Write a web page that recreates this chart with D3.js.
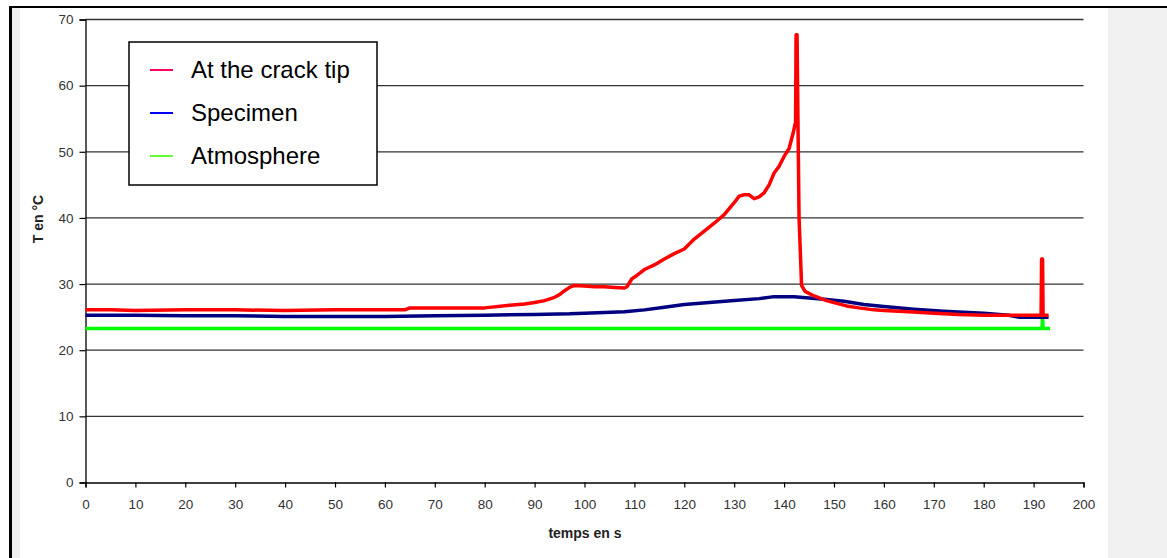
<!DOCTYPE html>
<html><head><meta charset="utf-8">
<script src="https://cdn.jsdelivr.net/npm/d3@7"></script>
<style>html,body{margin:0;padding:0;background:#fff;}svg{display:block;}</style>
</head><body>
<script>
const xTicks = [0,10,20,30,40,50,60,70,80,90,100,110,120,130,140,150,160,170,180,190,200];
const yTicks = [0,10,20,30,40,50,60,70];
const seriesNames = ["At the crack tip","Specimen","Atmosphere"];

const crackT = [0,5,10,20,30,40,50,60,64,65,70,75,80,85,88,90,92,94,95,96,97,98,100,102,104,106,108,108.5,109.5,110.5,112,114,116,118,120,122,124,126,128,130,131,132,133,134,135,136,137,138,139,140,141,141.8,142.3,142.4,142.6,142.7,143.0,143.5,144.2,146,148.5,150,152.5,155,158,160,165,170,175,180,185,190,191.5,191.6,191.8,191.9,193];
const crackV = [26.1,26.1,26.0,26.1,26.1,26.0,26.1,26.1,26.1,26.4,26.4,26.4,26.4,26.8,27.0,27.2,27.5,28.0,28.4,29.0,29.5,29.8,29.7,29.6,29.6,29.5,29.4,29.6,30.8,31.3,32.2,32.9,33.8,34.6,35.3,36.8,38.0,39.2,40.5,42.3,43.3,43.5,43.5,42.9,43.2,43.8,45.0,46.8,47.8,49.3,50.5,52.8,54.5,67.7,67.7,60.0,40.0,29.8,28.9,28.2,27.5,27.2,26.7,26.4,26.1,26.0,25.8,25.6,25.4,25.3,25.3,25.3,25.3,33.8,33.8,25.3,25.3];

const specT = [0,10,20,30,40,50,60,70,80,90,97,100,108,112,116,120,125,130,135,138,142,145,148,152,156,160,166,172,180,185,187,193];
const specV = [25.3,25.3,25.2,25.2,25.1,25.1,25.1,25.2,25.3,25.4,25.5,25.6,25.8,26.1,26.5,26.9,27.2,27.5,27.8,28.1,28.1,27.9,27.7,27.4,26.9,26.6,26.2,25.9,25.6,25.3,25.0,25.0];

const atmT = [0,40,80,120,160,191.7,191.8,191.9,193.3];
const atmV = [23.3,23.3,23.3,23.3,23.3,23.3,25.4,23.3,23.3];

const lineColors = ["#ff0000","#000080","#00ff00"];
const legendColors = ["#ff0066","#0000ff","#66ff33"];

const W = 1167, H = 558;
const FONT = "Arial, 'Liberation Sans', sans-serif";
const svg = d3.select("body").append("svg").attr("width", W).attr("height", H);

// frame
svg.append("rect").attr("x",12).attr("y",8).attr("width",8).attr("height",H-8).attr("fill","#f0f0f0");
svg.append("rect").attr("x",1108).attr("y",8).attr("width",W-1108).attr("height",H-8).attr("fill","#f0f0f0");
svg.append("rect").attr("x",9).attr("y",6).attr("width",W-9).attr("height",2).attr("fill","#000");
svg.append("rect").attr("x",9).attr("y",6).attr("width",3).attr("height",H-6).attr("fill","#000");

const x = d3.scaleLinear().domain([0,200]).range([85.5,1083.5]);
const y = d3.scaleLinear().domain([0,70]).range([482.5,19.5]);

// gridlines
svg.append("g").selectAll("line").data(yTicks.filter(d=>d>0)).join("line")
  .attr("x1",x(0)).attr("x2",x(200)).attr("y1",d=>y(d)).attr("y2",d=>y(d))
  .attr("stroke","#333").attr("stroke-width",1.3);

// axes
const xAxis = svg.append("g").attr("transform",`translate(0,${y(0)})`)
  .call(d3.axisBottom(x).tickValues(xTicks).tickSize(5).tickPadding(12).tickFormat(d3.format("d")));
const yAxis = svg.append("g").attr("transform",`translate(${x(0)},0)`)
  .call(d3.axisLeft(y).tickValues(yTicks).tickSize(6).tickPadding(6).tickFormat(d3.format("d")));
[xAxis,yAxis].forEach(g=>{
  g.select(".domain").attr("stroke","#000").attr("stroke-width",1.3);
  g.selectAll(".tick line").attr("stroke","#000").attr("stroke-width",1.2);
  g.selectAll("text").attr("font-family",FONT).attr("font-size",13.5).attr("fill","#333");
});

// axis titles
svg.append("text").attr("x",585).attr("y",538).attr("text-anchor","middle")
  .attr("font-family",FONT).attr("font-weight","bold").attr("font-size",14).attr("fill","#222")
  .text("temps en s");
svg.append("text").attr("transform","translate(43,219) rotate(-90)").attr("text-anchor","middle")
  .attr("font-family",FONT).attr("font-weight","bold").attr("font-size",14).attr("fill","#222")
  .text("T en °C");

// lines
const line = d3.line().x(d=>x(d[0])).y(d=>y(d[1]));
const series = [
  {t:atmT, v:atmV, c:lineColors[2]},
  {t:specT, v:specV, c:lineColors[1]},
  {t:crackT, v:crackV, c:lineColors[0]}
];
series.forEach(s=>{
  svg.append("path").datum(s.t.map((t,i)=>[t,s.v[i]]))
    .attr("d",line).attr("fill","none").attr("stroke",s.c).attr("stroke-width",3.5)
    .attr("stroke-linejoin","round");
});

// legend
const lg = svg.append("g");
lg.append("rect").attr("x",129).attr("y",42).attr("width",248).attr("height",143)
  .attr("fill","#fff").attr("stroke","#000").attr("stroke-width",1.5);
seriesNames.forEach((n,i)=>{
  const cy = 70 + i*43;
  lg.append("line").attr("x1",150).attr("x2",173).attr("y1",cy).attr("y2",cy)
    .attr("stroke",legendColors[i]).attr("stroke-width",2);
  lg.append("text").attr("x",191).attr("y",cy+8).attr("font-family",FONT)
    .attr("font-size",24).attr("fill","#000").text(n);
});
</script>
</body></html>
